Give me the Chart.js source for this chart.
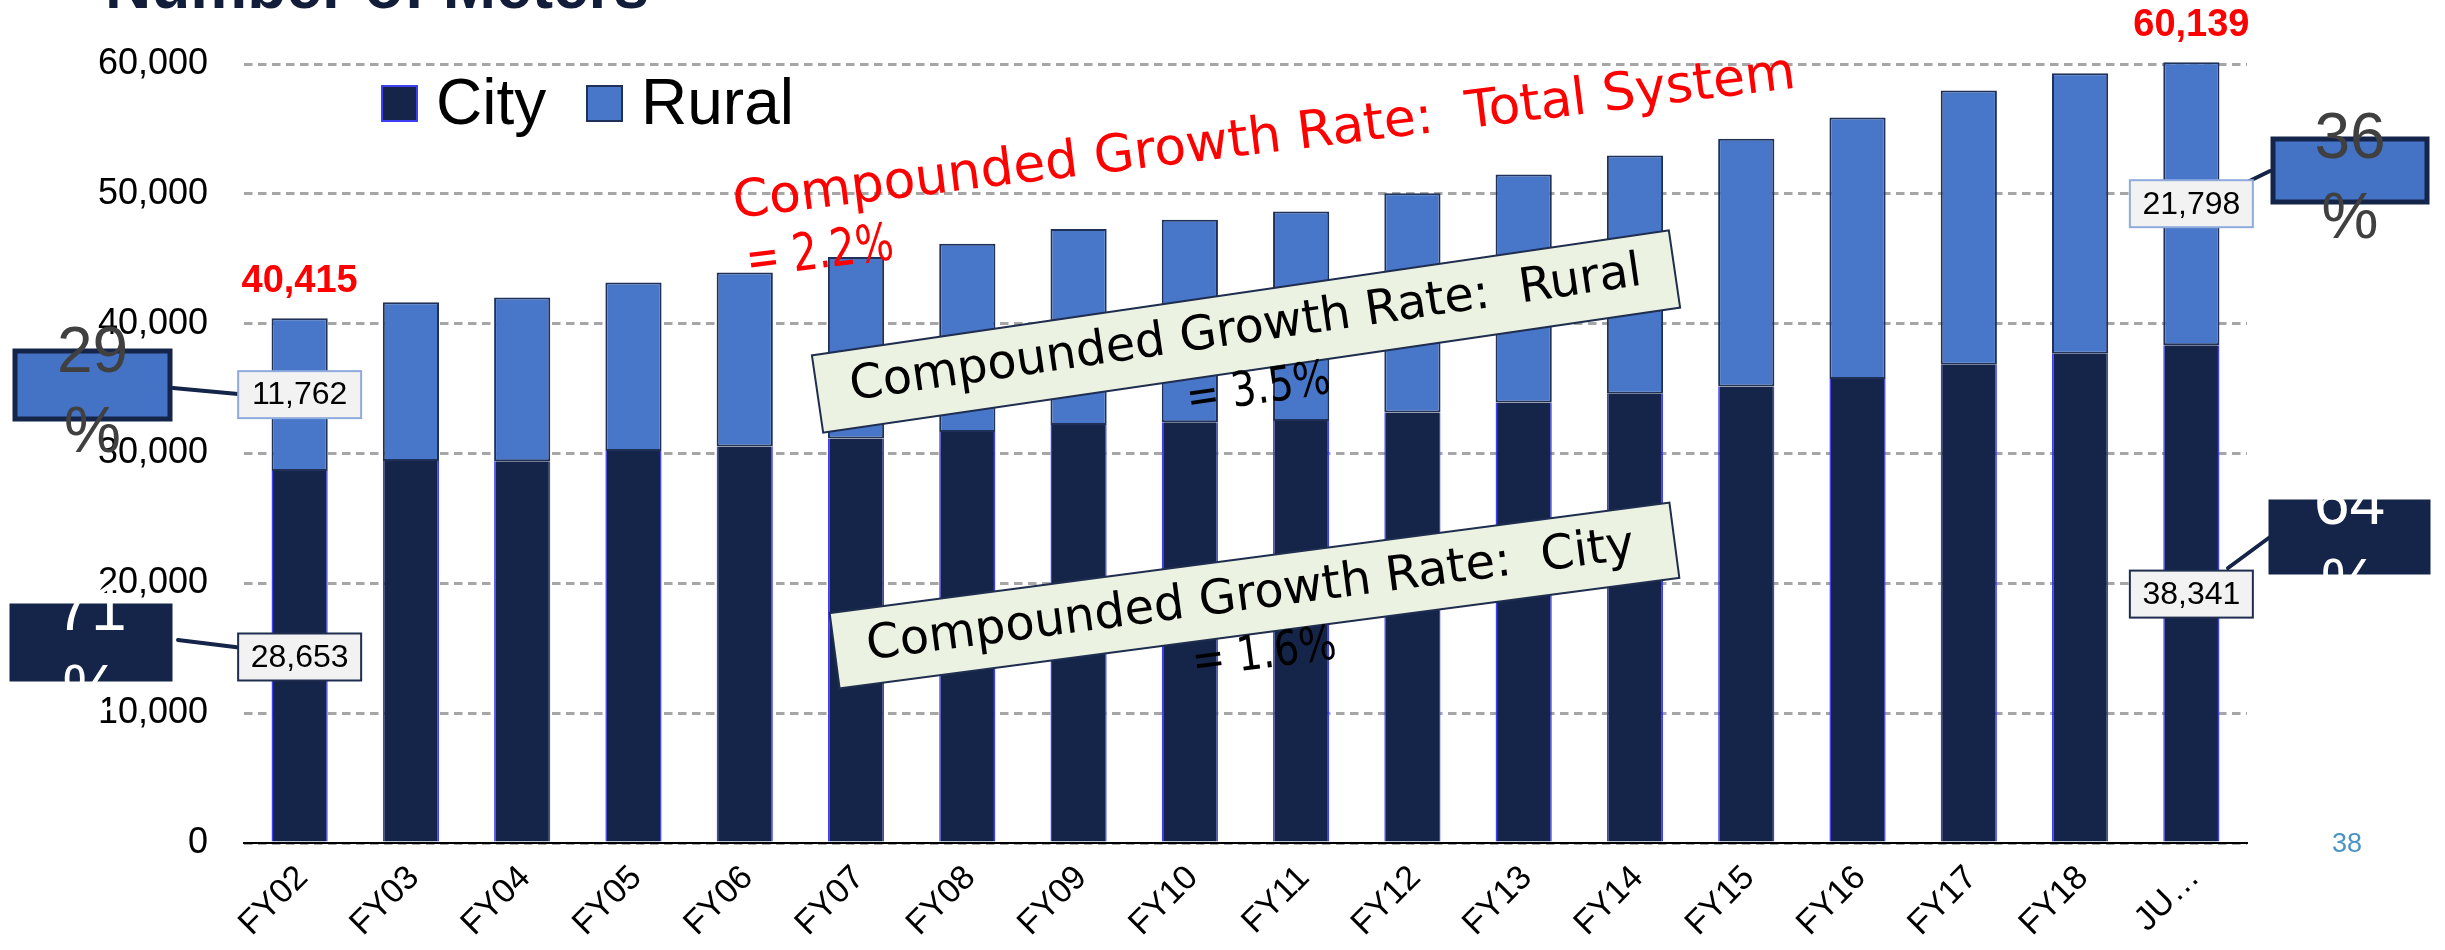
<!DOCTYPE html>
<html>
<head>
<meta charset="utf-8">
<script src="https://cdn.jsdelivr.net/npm/chart.js@4.4.1/dist/chart.umd.min.js"></script>
<style>
  html, body { margin: 0; padding: 0; background: #fff; overflow: hidden; }
  #wrap { width: 2445px; height: 950px; position: relative; }
</style>
</head>
<body>
<div id="wrap"><canvas id="grafico" width="2445" height="950"></canvas></div>
<script>
// dados
const categorias = ["FY02", "FY03", "FY04", "FY05", "FY06", "FY07", "FY08", "FY09", "FY10",
  "FY11", "FY12", "FY13", "FY14", "FY15", "FY16", "FY17", "FY18", "JU…"];
const city = [28653, 29430, 29405, 30190, 30540, 31160, 31650, 32190, 32400,
  32510, 33160, 33930, 34610, 35170, 35740, 36840, 37690, 38341];
const rural = [11762, 12210, 12620, 12990, 13410, 13980, 14510, 15100, 15610,
  16120, 16890, 17560, 18340, 19070, 20140, 21120, 21600, 21798];
const yTicks = [0, 10000, 20000, 30000, 40000, 50000, 60000];

const NAVY = "#15254a";
const AZUL = "#4877ca";

function fmt(v) { return Number(v).toLocaleString("en-US"); }

// tamanho de fonte para caber numa largura
function ajustaFonte(ctx, texto, largura, familia) {
  ctx.font = "100px " + familia;
  return 100 * largura / ctx.measureText(texto).width;
}

function caixa(ctx, cx, cy, w, h, fill, stroke, lw) {
  ctx.fillStyle = fill;
  ctx.fillRect(cx - w / 2, cy - h / 2, w, h);
  if (stroke) {
    ctx.strokeStyle = stroke;
    ctx.lineWidth = lw;
    ctx.strokeRect(cx - w / 2, cy - h / 2, w, h);
  }
}

function linha(ctx, x1, y1, x2, y2) {
  ctx.strokeStyle = NAVY;
  ctx.lineWidth = 4;
  ctx.lineCap = "round";
  ctx.beginPath(); ctx.moveTo(x1, y1); ctx.lineTo(x2, y2); ctx.stroke();
}

function rotulo(ctx, cx, cy, valor, borda) {
  caixa(ctx, cx, cy, 123, 47, "#f2f2f2", borda, 2);
  ctx.fillStyle = "#000";
  ctx.font = '32px "Liberation Sans"';
  ctx.textAlign = "center";
  ctx.textBaseline = "middle";
  ctx.fillText(fmt(valor), cx, cy + 1);
}

function pct(ctx, cx, cy, w, h, valor, fill, stroke, cor) {
  caixa(ctx, cx, cy, w, h, fill, stroke, 5);
  ctx.fillStyle = cor;
  ctx.font = '64px "Liberation Sans"';
  ctx.textAlign = "center";
  ctx.textBaseline = "alphabetic";
  ctx.fillText(String(valor), cx, cy - 13);
  ctx.fillText("%", cx, cy + 67);
}

function notaGirada(ctx, n) {
  ctx.save();
  ctx.translate(n.cx, n.cy);
  ctx.rotate(-n.ang * Math.PI / 180);
  if (n.w) {
    ctx.fillStyle = "#ebf2e1";
    ctx.fillRect(-n.w / 2, -n.h / 2, n.w, n.h);
    ctx.strokeStyle = "#1f2d4f";
    ctx.lineWidth = 2;
    ctx.strokeRect(-n.w / 2, -n.h / 2, n.w, n.h);
  }
  const tam = ajustaFonte(ctx, n.linhas[0], n.largura, '"DejaVu Sans"');
  ctx.font = tam + 'px "DejaVu Sans"';
  ctx.fillStyle = n.cor;
  ctx.textAlign = n.align;
  ctx.textBaseline = "alphabetic";
  ctx.fillText(n.linhas[0], n.x0, n.y0);
  // segunda linha mais estreita (dígitos da fonte original são estreitos)
  const sx = n.largura2 / ctx.measureText(n.linhas[1]).width;
  ctx.save();
  ctx.translate(n.x2, n.y0 + n.lh);
  ctx.scale(sx, 1);
  ctx.fillText(n.linhas[1], 0, 0);
  ctx.restore();
  ctx.restore();
}

const extras = {
  id: "extras",
  afterDraw(chart) {
    const ctx = chart.ctx;
    const ys = chart.scales.y;
    const barras = chart.getDatasetMeta(0).data;
    const ult = categorias.length - 1;
    ctx.save();

    // título (cortado no topo)
    ctx.fillStyle = "#121d3a";
    ctx.font = 'bold 64px "Liberation Sans"';
    ctx.textAlign = "left";
    ctx.textBaseline = "alphabetic";
    ctx.fillText("Number of Meters", 105, 8);

    // legenda
    const leg = [
      { x: 382, txt: "City", fill: NAVY, stroke: "#3f3ff2" },
      { x: 587, txt: "Rural", fill: AZUL, stroke: "#1f3059" }
    ];
    leg.forEach(l => {
      caixa(ctx, l.x + 17.5, 103.5, 35, 35, l.fill, l.stroke, 2);
      ctx.fillStyle = "#000";
      ctx.font = '64px "Liberation Sans"';
      ctx.textAlign = "left";
      ctx.fillText(l.txt, l.x + 54, 124);
    });

    // totais em vermelho
    [0, ult].forEach(i => {
      const total = city[i] + rural[i];
      ctx.fillStyle = "#ff0000";
      ctx.font = 'bold 38px "Liberation Sans"';
      ctx.textAlign = "center";
      ctx.textBaseline = "alphabetic";
      ctx.fillText(fmt(total), barras[i].x, ys.getPixelForValue(total) - 26);
    });

    // notas giradas
    notaGirada(ctx, { cx: 735, cy: 218, ang: 7, linhas: ["Compounded Growth Rate:  Total System", "= 2.2%"],
      largura: 1070, largura2: 148, cor: "#ff0000", align: "left", x0: 0, x2: 6, y0: 0, lh: 60 });
    notaGirada(ctx, { cx: 1246, cy: 331.5, ang: 8.3, w: 866, h: 78, linhas: ["Compounded Growth Rate:  Rural", "= 3.5%"],
      largura: 800, largura2: 145, cor: "#000", align: "center", x0: 0, x2: 4, y0: 11, lh: 62 });
    notaGirada(ctx, { cx: 1254.5, cy: 595.5, ang: 7.5, w: 847, h: 76, linhas: ["Compounded Growth Rate:  City", "= 1.6%"],
      largura: 774, largura2: 145, cor: "#000", align: "center", x0: -4, x2: 2, y0: 13, lh: 60 });

    // rótulos do primeiro e último ano
    linha(ctx, 173, 388, 238, 394);
    linha(ctx, 178, 640, 243, 648);
    linha(ctx, 2231, 190, 2270, 171);
    linha(ctx, 2228, 568, 2270, 537);
    [0, ult].forEach(i => {
      rotulo(ctx, barras[i].x, ys.getPixelForValue(city[i] + rural[i] / 2), rural[i], "#8faadc");
      rotulo(ctx, barras[i].x, ys.getPixelForValue(city[i] / 2), city[i], "#1f2d4f");
    });
    const p0 = Math.round(100 * rural[0] / (city[0] + rural[0]));
    const p1 = Math.round(100 * rural[ult] / (city[ult] + rural[ult]));
    pct(ctx, 92.5, 385, 155, 68, p0, "#4472c4", NAVY, "#404040");
    pct(ctx, 91, 642.5, 158, 73, 100 - p0, NAVY, NAVY, "#ffffff");
    pct(ctx, 2350, 170.5, 154, 63, p1, "#4472c4", NAVY, "#404040");
    pct(ctx, 2349.5, 537, 157, 70, 100 - p1, NAVY, NAVY, "#ffffff");

    // número do slide
    ctx.fillStyle = "#4a94c4";
    ctx.font = '27px "Liberation Sans"';
    ctx.textAlign = "center";
    ctx.fillText("38", 2347, 852);
    ctx.restore();
  }
};

new Chart(document.getElementById("grafico"), {
  type: "bar",
  data: {
    labels: categorias,
    datasets: [
      { label: "City", data: city, backgroundColor: NAVY, borderColor: "#3f3ff2",
        borderWidth: { left: 1.5, right: 1.5, top: 0, bottom: 0 }, borderSkipped: false, clip: false },
      { label: "Rural", data: rural, backgroundColor: AZUL, borderColor: "#1f3059",
        borderWidth: 2, borderSkipped: false, clip: false }
    ]
  },
  options: {
    responsive: false,
    animation: false,
    devicePixelRatio: 1,
    layout: { padding: { top: 64, right: 198, left: 0, bottom: 0 } },
    datasets: { bar: { barPercentage: 0.505, categoryPercentage: 1.0 } },
    plugins: { legend: { display: false }, tooltip: { enabled: false } },
    scales: {
      x: {
        stacked: true,
        grid: { display: false },
        border: { display: true, color: "#000", width: 2 },
        ticks: { color: "#000", font: { family: "Liberation Sans", size: 34 }, minRotation: 45, maxRotation: 45,
          autoSkip: false, padding: 7, labelOffset: 3 },
        afterFit: s => { s.height = 107; }
      },
      y: {
        stacked: true,
        min: 0,
        max: 60000,
        grid: { color: "#a6a6a6", lineWidth: 3, drawTicks: false },
        border: { display: false, dash: [8.5, 5.5] },
        ticks: { color: "#000", font: { family: "Liberation Sans", size: 36 }, padding: 36, callback: v => fmt(v) },
        afterBuildTicks: s => { s.ticks = yTicks.map(v => ({ value: v })); },
        afterFit: s => { s.width = 244; }
      }
    }
  },
  plugins: [extras]
});
</script>
</body>
</html>
